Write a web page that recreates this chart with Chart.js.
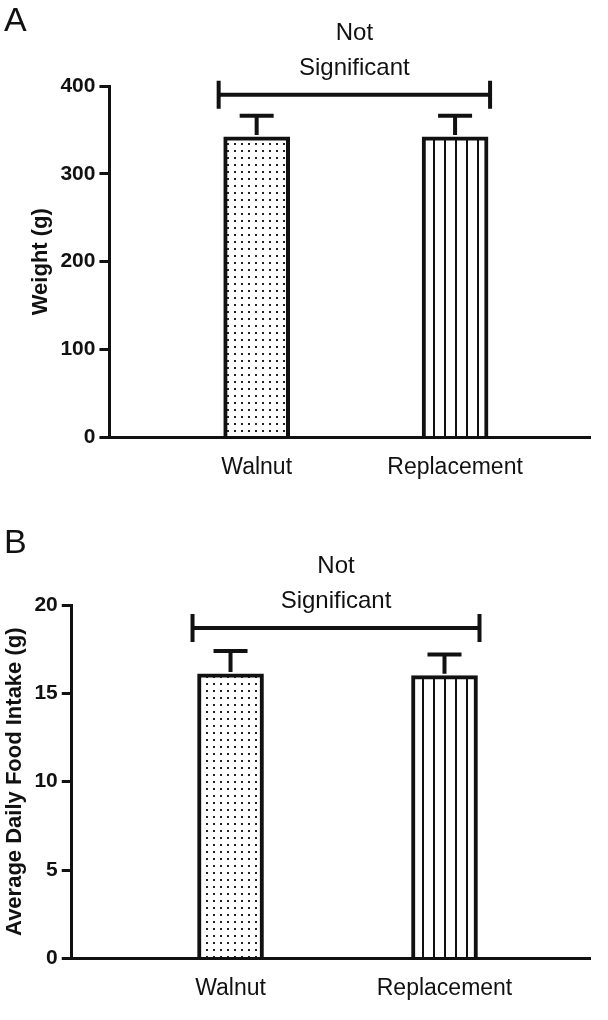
<!DOCTYPE html>
<html>
<head>
<script src="https://cdn.jsdelivr.net/npm/chart.js@4"></script>
<style>
body { margin: 0; background: #fff; font-family: "Liberation Sans", Arial, sans-serif; }
.panel { position: absolute; left: 0; width: 608px; }
.letter { position: absolute; left: 4px; font-size: 34px; color: #111; }
</style>
</head>
<body>
<div class="panel" style="top:0;height:505px"><canvas id="chartA"></canvas></div>
<div class="panel" style="top:505px;height:515px"><canvas id="chartB"></canvas></div>
<div class="letter" style="top:0">A</div>
<div class="letter" style="top:522px">B</div>
<script>
// data
const groups = ['Walnut', 'Replacement'];
const weightMean = [342, 342];
const weightErr = [24, 24];
const intakeMean = [16.1, 16.0];
const intakeErr = [1.3, 1.2];

function dotPattern() {
    const c = document.createElement('canvas');
    c.width = 7; c.height = 7;
    const g = c.getContext('2d');
    g.fillStyle = '#fff'; g.fillRect(0, 0, 7, 7);
    g.fillStyle = '#222'; g.fillRect(3, 3, 2, 2);
    return g.createPattern(c, 'repeat');
}
function linePattern() {
    const c = document.createElement('canvas');
    c.width = 11; c.height = 4;
    const g = c.getContext('2d');
    g.fillStyle = '#fff'; g.fillRect(0, 0, 11, 4);
    g.fillStyle = '#111'; g.fillRect(4, 0, 2, 4);
    return g.createPattern(c, 'repeat');
}

// error bars and significance bracket
const extras = {
    id: 'extras',
    afterDatasetsDraw(chart, args, opts) {
        const ctx = chart.ctx, x = chart.scales.x, y = chart.scales.y;
        ctx.save();
        ctx.strokeStyle = '#111';
        ctx.lineWidth = 4;
        opts.mean.forEach((m, i) => {
            const cx = x.getPixelForValue(i + 1);
            const top = y.getPixelForValue(m + opts.err[i]);
            ctx.beginPath();
            ctx.moveTo(cx, y.getPixelForValue(m) - 2); ctx.lineTo(cx, top);
            ctx.moveTo(cx - 17, top); ctx.lineTo(cx + 17, top);
            ctx.stroke();
        });
        const by = y.getPixelForValue(opts.bracket);
        const x1 = x.getPixelForValue(1) - 38, x2 = x.getPixelForValue(2) + 35;
        ctx.beginPath();
        ctx.moveTo(x1, by); ctx.lineTo(x2, by);
        ctx.moveTo(x1, by - 14); ctx.lineTo(x1, by + 14);
        ctx.moveTo(x2, by - 14); ctx.lineTo(x2, by + 14);
        ctx.stroke();
        ctx.fillStyle = '#111';
        ctx.font = '24px "Liberation Sans", Arial, sans-serif';
        ctx.textAlign = 'center';
        ctx.fillText('Not', (x1 + x2) / 2, by - 55);
        ctx.fillText('Significant', (x1 + x2) / 2, by - 20);
        ctx.restore();
    }
};

function makeChart(id, mean, err, yMax, yStep, title, bracket, padTop, padBottom, padLeft) {
    const patterns = [dotPattern(), linePattern()];
    return new Chart(document.getElementById(id), {
        type: 'bar',
        data: {
            datasets: [{
                data: mean.map((v, i) => ({ x: i + 1, y: v })),
                backgroundColor: patterns,
                borderColor: '#111',
                borderWidth: 4,
                borderSkipped: 'bottom',
                barThickness: 66
            }]
        },
        plugins: [extras],
        options: {
            responsive: true,
            maintainAspectRatio: false,
            animation: false,
            layout: { padding: { top: padTop, right: 18, bottom: padBottom, left: padLeft } },
            plugins: {
                legend: { display: false },
                tooltip: { enabled: false },
                extras: { mean: mean, err: err, bracket: bracket }
            },
            scales: {
                x: {
                    type: 'linear',
                    offset: false,
                    min: 0.258, max: 2.68,
                    afterBuildTicks: s => { s.ticks = [{ value: 1 }, { value: 2 }]; },
                    ticks: {
                        callback: v => groups[v - 1],
                        color: '#111',
                        font: { size: 23, family: '"Liberation Sans", Arial' },
                        padding: 16
                    },
                    grid: { display: false, drawTicks: false },
                    border: { color: '#111', width: 3 }
                },
                y: {
                    min: 0, max: yMax,
                    ticks: {
                        stepSize: yStep,
                        color: '#111',
                        font: { size: 21, weight: 'bold', family: '"Liberation Sans", Arial' },
                        padding: 4
                    },
                    grid: { display: true, drawOnChartArea: false, drawTicks: true, tickLength: 10, lineWidth: 3, tickWidth: 3, tickColor: '#111' },
                    border: { color: '#111', width: 3 },
                    title: {
                        display: true,
                        text: title,
                        color: '#111',
                        font: { size: 22, weight: 'bold', family: '"Liberation Sans", Arial' },
                        padding: 2
                    }
                }
            }
        }
    });
}

makeChart('chartA', weightMean, weightErr, 400, 100, 'Weight (g)', 390, 86, 8, 26);
makeChart('chartB', intakeMean, intakeErr, 20, 5, 'Average Daily Food Intake (g)', 18.7, 100, 2, 0);
</script>
</body>
</html>
